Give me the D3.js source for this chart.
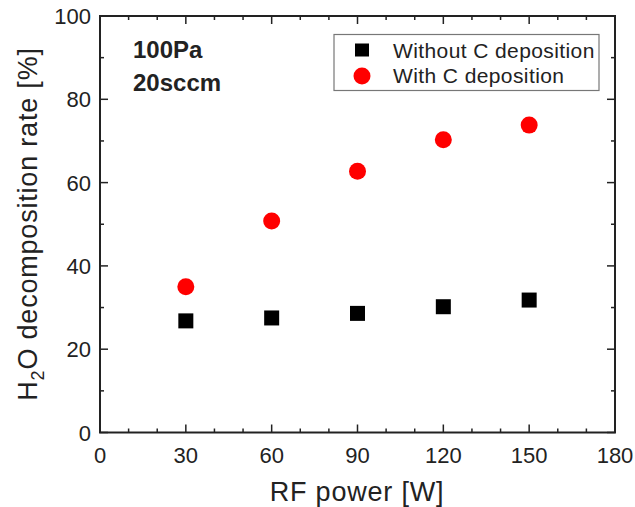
<!DOCTYPE html>
<html><head><meta charset="utf-8">
<script src="https://cdn.jsdelivr.net/npm/d3@7/dist/d3.min.js"></script>
<style>body{margin:0;background:#fff}svg{display:block;font-family:"Liberation Sans",Arial,sans-serif}</style>
</head><body><svg id="c" width="635" height="507"></svg>
<script>
const power = [30, 60, 90, 120, 150];
const withoutC = [26.8, 27.5, 28.6, 30.2, 31.8];
const withC = [35.0, 50.8, 62.7, 70.3, 73.8];
const xTicks = [0, 30, 60, 90, 120, 150, 180];
const yTicks = [0, 20, 40, 60, 80, 100];
const seriesNames = ["Without C deposition", "With C deposition"];

const svg = d3.select("#c");
const L = 100, R = 615, T = 16, B = 432.5;
const x = d3.scaleLinear().domain([0, 180]).range([L, R]);
const y = d3.scaleLinear().domain([0, 100]).range([B, T]);
const ink = "#222";

const minorX = d3.range(0, 181, 10), minorY = d3.range(0, 101, 10);
const g = svg.append("g");
function ticksX(yPos, dir) {
  minorX.forEach(v => {
    const len = v % 30 === 0 ? 8 : 4;
    g.append("line").attr("x1", x(v)).attr("x2", x(v)).attr("y1", yPos).attr("y2", yPos + dir * len)
      .attr("stroke", ink).attr("stroke-width", 1.5);
  });
}
function ticksY(xPos, dir) {
  minorY.forEach(v => {
    const len = v % 20 === 0 ? 8 : 4;
    g.append("line").attr("y1", y(v)).attr("y2", y(v)).attr("x1", xPos).attr("x2", xPos + dir * len)
      .attr("stroke", ink).attr("stroke-width", 1.5);
  });
}
ticksX(B, -1); ticksX(T, 1); ticksY(L, 1); ticksY(R, -1);

g.append("rect").attr("x", L).attr("y", T).attr("width", R - L).attr("height", B - T)
  .attr("fill", "none").attr("stroke", ink).attr("stroke-width", 2);

// tick labels
svg.append("g").selectAll("text").data(xTicks).join("text")
  .attr("x", d => x(d)).attr("y", 463).attr("text-anchor", "middle")
  .attr("font-size", 22).attr("fill", ink).text(d => d);
svg.append("g").selectAll("text").data(yTicks).join("text")
  .attr("x", 91).attr("y", d => y(d) + 8).attr("text-anchor", "end")
  .attr("font-size", 22).attr("fill", ink).text(d => d);

// axis titles
svg.append("text").attr("x", 357).attr("y", 501).attr("text-anchor", "middle")
  .attr("font-size", 27).attr("letter-spacing", 0.8).attr("fill", ink).text("RF power [W]");
const yt = svg.append("text").attr("transform", `translate(37,224) rotate(-90)`)
  .attr("text-anchor", "middle").attr("font-size", 27).attr("letter-spacing", 0.8).attr("fill", ink);
yt.append("tspan").text("H");
yt.append("tspan").attr("font-size", 18).attr("dy", 7).text("2");
yt.append("tspan").attr("dy", -7).text("O decomposition rate [%]");

// data
svg.append("g").selectAll("rect").data(power).join("rect")
  .attr("x", (d) => x(d) - 7.5).attr("y", (d, i) => y(withoutC[i]) - 7.5)
  .attr("width", 15).attr("height", 15).attr("fill", "#000");
svg.append("g").selectAll("circle").data(power).join("circle")
  .attr("cx", d => x(d)).attr("cy", (d, i) => y(withC[i])).attr("r", 8.5).attr("fill", "#ff0000");

// annotation
svg.append("text").attr("x", 133).attr("y", 58).attr("font-size", 24).attr("font-weight", "bold")
  .attr("fill", ink).text("100Pa");
svg.append("text").attr("x", 133).attr("y", 90.5).attr("font-size", 24).attr("font-weight", "bold")
  .attr("fill", ink).text("20sccm");

// legend
svg.append("rect").attr("x", 334).attr("y", 34.5).attr("width", 265).attr("height", 56)
  .attr("fill", "#fff").attr("stroke", "#777").attr("stroke-width", 1.2);
svg.append("rect").attr("x", 362 - 7).attr("y", 50 - 6.5).attr("width", 14).attr("height", 13).attr("fill", "#000");
svg.append("circle").attr("cx", 362).attr("cy", 76).attr("r", 8.5).attr("fill", "#ff0000");
svg.append("g").selectAll("text").data(seriesNames).join("text")
  .attr("x", 393).attr("y", (d, i) => 57.5 + i * 25.5).attr("font-size", 21).attr("letter-spacing", 0.4)
  .attr("fill", ink).text(d => d);
</script></body></html>
